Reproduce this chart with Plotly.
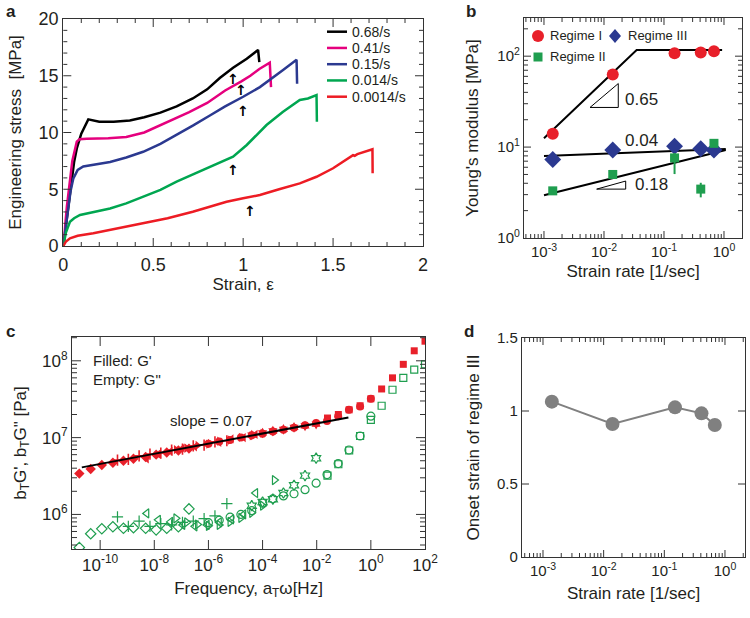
import math

import plotly.graph_objects as go
import plotly.subplots as ps

FONT = "Liberation Sans, Arial, Helvetica, sans-serif"
TXT = "#231f20"
AX = "#333333"
RED = "#e8202a"
GREEN = "#1f9e4f"
NAVY = "#2b3990"
GREY = "#808080"

# ---- (a) curve sforzo-deformazione ----
ETICHETTE_VEL = ["0.68/s", "0.41/s", "0.15/s", "0.014/s", "0.0014/s"]
COLORI_VEL = ["#000000", "#e5007e", "#2b3990", "#00a650", "#ed1c24"]

STRAIN_068 = [0, 0.03, 0.06, 0.075, 0.10, 0.139, 0.16, 0.2, 0.28, 0.37, 0.45, 0.54, 0.63,
              0.72, 0.8, 0.87, 0.944, 1.02, 1.083, 1.09]
STRESS_068 = [0, 3.8, 7.4, 8.6, 9.9, 11.16, 11.1, 10.95, 10.95, 11.05, 11.35, 11.75, 12.3,
              13.0, 13.8, 14.8, 15.7, 16.5, 17.27, 16.2]

STRAIN_041 = [0, 0.02, 0.05, 0.075, 0.09, 0.13, 0.25, 0.35, 0.45, 0.54, 0.63, 0.7, 0.8,
              0.9, 0.99, 1.04, 1.09, 1.148, 1.155]
STRESS_041 = [0, 3.5, 7.5, 9.2, 9.4, 9.45, 9.5, 9.6, 10.0, 10.65, 11.3, 11.8, 12.6,
              13.7, 14.5, 15.0, 15.6, 16.15, 14.0]

STRAIN_015 = [0, 0.02, 0.04, 0.056, 0.08, 0.111, 0.18, 0.26, 0.35, 0.444, 0.54, 0.63, 0.72,
              0.815, 0.9, 1.0, 1.093, 1.222, 1.297, 1.3]
STRESS_015 = [0, 2.5, 4.8, 5.96, 6.7, 7.0, 7.2, 7.4, 7.8, 8.3, 9.0, 9.78, 10.6,
              11.5, 12.3, 13.15, 14.0, 15.5, 16.4, 14.3]

STRAIN_0014 = [0, 0.015, 0.037, 0.06, 0.093, 0.18, 0.26, 0.35, 0.444, 0.54, 0.63, 0.72,
               0.815, 0.944, 1.02, 1.13, 1.22, 1.315, 1.36, 1.408, 1.41]
STRESS_0014 = [0, 1.2, 2.14, 2.45, 2.73, 3.0, 3.3, 3.75, 4.34, 4.95, 5.67, 6.3,
               7.0, 7.87, 8.9, 10.66, 11.8, 12.86, 13.0, 13.3, 10.95]

STRAIN_00014 = [0, 0.015, 0.037, 0.08, 0.167, 0.3, 0.444, 0.58, 0.72, 0.82, 0.908, 1.0,
                1.093, 1.2, 1.315, 1.408, 1.5, 1.611, 1.62, 1.635, 1.719, 1.72]
STRESS_00014 = [0, 0.4, 0.68, 0.9, 1.12, 1.55, 2.0, 2.45, 3.02, 3.5, 3.9, 4.2,
                4.49, 5.0, 5.52, 6.1, 6.85, 8.0, 7.95, 8.1, 8.52, 6.4]

# punte delle frecce (inizio regime III)
ARROW_STRAIN = [0.944, 0.99, 1.0, 0.944, 1.04]
ARROW_STRESS = [15.35, 14.33, 12.48, 7.34, 3.70]

# ---- (b) modulo di Young ----
RATES = [0.0014, 0.014, 0.15, 0.41, 0.68]
E_REGIME_I = [14, 63, 108, 110, 113]
E_REGIME_III = [7.3, 9.3, 10.2, 9.6, 9.3]
E_REGIME_II = [3.3, 5.0, 7.6, 3.45, 11.0]
E_II_ERR_PLUS = [0, 0, 1.0, 0.6, 0]
E_II_ERR_MINUS = [0, 0, 2.55, 0.65, 0]

FIT_I_X = [0.001, 0.035, 0.93]
FIT_I_Y = [12.5, 117, 117]
FIT_III_X = [0.001, 1.07]
FIT_III_Y = [8.0, 9.5]
FIT_II_X = [0.001, 1.07]
FIT_II_Y = [2.95, 9.3]

TRI_065_X = [0.00585, 0.0173, 0.0173, 0.00585]
TRI_065_Y = [27.3, 27.3, 50, 27.3]
TRI_018_X = [0.00755, 0.023, 0.023, 0.00755]
TRI_018_Y = [3.45, 3.45, 4.23, 3.45]

RATE_TICKS = [0.001, 0.01, 0.1, 1]
RATE_TICKTEXT = ["10<sup>-3</sup>", "10<sup>-2</sup>", "10<sup>-1</sup>", "10<sup>0</sup>"]
E_TICKS = [1, 10, 100]
E_TICKTEXT = ["10<sup>0</sup>", "10<sup>1</sup>", "10<sup>2</sup>"]

# ---- (c) curve maestre G', G'' ----
FREQ_D = [1.70e-11, 4.47e-11, 1.15e-10, 2.95e-10, 7.24e-10, 1.70e-9, 4.79e-9, 1.17e-8,
          2.88e-8, 7.76e-8, 1.91e-7]
GP_D = [3.4e6, 3.9e6, 4.4e6, 4.7e6, 5.0e6, 5.3e6, 5.6e6, 6.0e6, 6.4e6, 6.8e6, 7.2e6]
GPP_D = [3.7e5, 5.6e5, 6.5e5, 6.9e5, 6.6e5, 6.7e5, 6.6e5, 6.3e5, 6.6e5, 6.9e5, 1.18e6]

FREQ_X = [4.37e-10, 1.10e-9, 2.75e-9, 6.92e-9, 1.74e-8, 4.37e-8, 1.10e-7, 2.75e-7,
          6.92e-7, 1.74e-6, 4.79e-6]
GP_X = [5.1e6, 5.2e6, 5.8e6, 6.1e6, 6.3e6, 6.9e6, 7.1e6, 7.8e6, 8.0e6, 8.8e6, 9.1e6]
GPP_X = [9.3e5, 7.0e5, 8.2e5, 7.0e5, 7.6e5, 7.3e5, 7.9e5, 8.2e5, 8.8e5, 9.6e5, 1.38e6]

FREQ_L = [5.25e-9, 1.41e-8, 3.98e-8, 1.12e-7, 3.16e-7, 8.91e-7, 2.51e-6, 7.08e-6,
          2.0e-5, 5.5e-5]
GP_L = [5.3e6, 6.1e6, 6.6e6, 7.3e6, 7.6e6, 8.4e6, 8.7e6, 9.6e6, 1.0e7, 1.1e7]
GPP_L = [1.03e6, 8.5e5, 8.0e5, 7.3e5, 7.0e5, 7.3e5, 7.9e5, 8.6e5, 1.0e6, 1.9e6]

FREQ_R = [6.31e-8, 1.58e-7, 3.98e-7, 1.0e-6, 2.51e-6, 6.31e-6, 1.58e-5, 3.98e-5,
          1.0e-4, 2.75e-4]
GP_R = [7.0e6, 7.3e6, 7.9e6, 8.2e6, 9.0e6, 9.3e6, 1.01e7, 1.05e7, 1.14e7, 1.2e7]
GPP_R = [8.9e5, 7.9e5, 7.4e5, 7.1e5, 7.3e5, 8.0e5, 9.0e5, 1.05e6, 1.3e6, 2.8e6]

FREQ_O = [1.0e-6, 2.51e-6, 6.31e-6, 1.58e-5, 3.98e-5, 1.0e-4, 2.4e-4, 5.9e-4, 1.45e-3,
          3.7e-3, 9.5e-3, 2.4e-2, 6.2e-2, 0.155, 0.40, 1.0]
GP_O = [8.3e6, 8.9e6, 9.3e6, 1.0e7, 1.07e7, 1.12e7, 1.2e7, 1.27e7, 1.34e7, 1.45e7,
        1.55e7, 1.65e7, 1.9e7, 2.3e7, 2.55e7, 3.2e7]
GPP_O = [7.8e5, 8.4e5, 9.2e5, 1.0e6, 1.12e6, 1.4e6, 1.6e6, 1.74e6, 1.86e6, 2.1e6,
         2.55e6, 3.3e6, 4.6e6, 6.9e6, 1.05e7, 1.9e7]

FREQ_S = [3.98e-5, 1.0e-4, 2.4e-4, 5.9e-4, 1.45e-3, 3.7e-3, 9.5e-3]
GP_S = [1.08e7, 1.15e7, 1.22e7, 1.28e7, 1.36e7, 1.42e7, 1.5e7]
GPP_S = [1.3e6, 1.45e6, 1.58e6, 1.9e6, 2.4e6, 3.2e6, 5.4e6]

FREQ_Q = [0.025, 0.063, 0.158, 0.40, 1.0, 2.5, 6.3, 15.8, 40, 100]
GP_Q = [1.8e7, 2.0e7, 2.3e7, 2.6e7, 3.2e7, 4.3e7, 6.0e7, 9.0e7, 1.35e8, 1.8e8]
GPP_Q = [3.2e6, 4.5e6, 6.8e6, 1.05e7, 1.7e7, 2.6e7, 4.2e7, 6.0e7, 7.7e7, 9.0e7]

FIT_C_FREQ = [2.1e-11, 0.148]
FIT_C_G = [4.1e6, 1.83e7]

FREQ_TICKS = [1e-10, 1e-8, 1e-6, 1e-4, 1e-2, 1, 100]
FREQ_TICKTEXT = ["10<sup>-10</sup>", "10<sup>-8</sup>", "10<sup>-6</sup>", "10<sup>-4</sup>",
                 "10<sup>-2</sup>", "10<sup>0</sup>", "10<sup>2</sup>"]
G_TICKS = [1e6, 1e7, 1e8]
G_TICKTEXT = ["10<sup>6</sup>", "10<sup>7</sup>", "10<sup>8</sup>"]

# ---- (d) deformazione di inizio regime III ----
ONSET = [1.064, 0.911, 1.025, 0.984, 0.904]
ONSET_TICKS = [0, 0.5, 1, 1.5]

# range degli assi (log10 per gli assi logaritmici)
R_A_X, R_A_Y = [0, 2], [0, 20]
R_B_X, R_B_Y = [-3.333, 0.3], [0, 2.42]
R_C_X, R_C_Y = [-11.04, 2.0], [5.55, 8.31]
R_D_X, R_D_Y = [-3.346, 0.33], [0, 1.5]

# riquadri dei pannelli in pixel: (sinistra, destra, alto, basso)
BOX_A = (63.3, 423, 19, 246)
BOX_B = (524, 742, 18, 238)
BOX_C = (72, 425, 337, 549)
BOX_D = (522, 745, 338, 557)


def px(x):
    return x / 750


def py(y):
    return 1 - y / 618


def frac(v, r, log=False):
    v = math.log10(v) if log else v
    return (v - r[0]) / (r[1] - r[0])


def tacche_log(r, e_min, e_max, lung_mag, lung_min, major_step=1):
    # (frazione, lunghezza) delle tacche di un asse logaritmico
    out = []
    for e in range(e_min, e_max + 1):
        if (e - e_min) % major_step == 0:
            out.append((frac(10.0 ** e, r, True), lung_mag))
        if lung_min:
            for m in range(2, 10):
                out.append((frac(m * 10.0 ** e, r, True), lung_min))
    return [(f, l) for f, l in out if 0.002 < f < 0.998]


def tacche_lin(r, passo, ogni, lung_mag, lung_min):
    out = []
    n = int(round((r[1] - r[0]) / passo))
    for i in range(1, n):
        out.append((i / n, lung_mag if i % ogni == 0 else lung_min))
    return out


def forme_tacche(box, tacche, orient):
    # linee brevi in coordinate paper, verso l'interno, su entrambi i lati
    x0, x1, y0, y1 = box
    out = []
    st = dict(type="line", xref="paper", yref="paper", line=dict(color=AX, width=1))
    for f, lung in tacche:
        if orient == "x":
            xx = x0 + f * (x1 - x0)
            out.append(dict(x0=px(xx), x1=px(xx), y0=py(y1), y1=py(y1 - lung), **st))
            out.append(dict(x0=px(xx), x1=px(xx), y0=py(y0), y1=py(y0 + lung), **st))
        else:
            yy = y1 - f * (y1 - y0)
            out.append(dict(x0=px(x0), x1=px(x0 + lung), y0=py(yy), y1=py(yy), **st))
            out.append(dict(x0=px(x1), x1=px(x1 - lung), y0=py(yy), y1=py(yy), **st))
    return out


def assi(size, **kw):
    d = dict(showline=True, linecolor=AX, linewidth=1.2, mirror=True, ticks="",
             showgrid=False, zeroline=False, automargin=False,
             tickfont=dict(size=size, color=TXT, family=FONT),
             title_font=dict(size=17, color=TXT, family=FONT))
    d.update(kw)
    return d


fig = ps.make_subplots(rows=2, cols=2)

# (a)
curve = [(STRAIN_068, STRESS_068), (STRAIN_041, STRESS_041), (STRAIN_015, STRESS_015),
         (STRAIN_0014, STRESS_0014), (STRAIN_00014, STRESS_00014)]
for (xs, ys), nome, col in zip(curve, ETICHETTE_VEL, COLORI_VEL):
    fig.add_trace(go.Scatter(x=xs, y=ys, mode="lines", name=nome,
                             line=dict(color=col, width=2.5), showlegend=False), row=1, col=1)

# (b)
for fx, fy in [(FIT_I_X, FIT_I_Y), (FIT_III_X, FIT_III_Y), (FIT_II_X, FIT_II_Y)]:
    fig.add_trace(go.Scatter(x=fx, y=fy, mode="lines", line=dict(color="black", width=2),
                             showlegend=False), row=1, col=2)
for tx, ty in [(TRI_065_X, TRI_065_Y), (TRI_018_X, TRI_018_Y)]:
    fig.add_trace(go.Scatter(x=tx, y=ty, mode="lines", line=dict(color="black", width=1),
                             showlegend=False), row=1, col=2)
fig.add_trace(go.Scatter(x=RATES, y=E_REGIME_I, mode="markers", name="Regime I", showlegend=False,
                         marker=dict(symbol="circle", size=12, color=RED)), row=1, col=2)
fig.add_trace(go.Scatter(x=RATES, y=E_REGIME_III, mode="markers", name="Regime III", showlegend=False,
                         marker=dict(symbol="diamond", size=13, color=NAVY)), row=1, col=2)
fig.add_trace(go.Scatter(x=RATES, y=E_REGIME_II, mode="markers", name="Regime II", showlegend=False,
                         marker=dict(symbol="square", size=9, color=GREEN),
                         error_y=dict(type="data", array=E_II_ERR_PLUS, arrayminus=E_II_ERR_MINUS,
                                      color=GREEN, thickness=2, width=0)), row=1, col=2)

# (c)
serie_c = [(FREQ_D, GP_D, GPP_D, "diamond", 8), (FREQ_X, GP_X, GPP_X, "cross-thin", 8),
           (FREQ_L, GP_L, GPP_L, "triangle-left", 8), (FREQ_R, GP_R, GPP_R, "triangle-right", 8),
           (FREQ_O, GP_O, GPP_O, "circle", 8), (FREQ_S, GP_S, GPP_S, "hexagram", 8),
           (FREQ_Q, GP_Q, GPP_Q, "square", 7)]
for fr, gp, gpp, sym, sz in serie_c:
    if sym == "cross-thin":
        m_full = dict(symbol=sym, size=sz, line=dict(color=RED, width=1.6))
        m_empty = dict(symbol=sym, size=sz, line=dict(color=GREEN, width=1.2))
    else:
        m_full = dict(symbol=sym, size=sz, color=RED, line=dict(width=0))
        m_empty = dict(symbol=sym + "-open", size=sz, color=GREEN, line=dict(color=GREEN, width=1.2))
    fig.add_trace(go.Scatter(x=fr, y=gp, mode="markers", marker=m_full, showlegend=False), row=2, col=1)
    fig.add_trace(go.Scatter(x=fr, y=gpp, mode="markers", marker=m_empty, showlegend=False), row=2, col=1)
fig.add_trace(go.Scatter(x=FIT_C_FREQ, y=FIT_C_G, mode="lines", line=dict(color="black", width=2),
                         showlegend=False), row=2, col=1)

# (d)
fig.add_trace(go.Scatter(x=RATES, y=ONSET, mode="lines+markers", line=dict(color=GREY, width=2),
                         marker=dict(size=14, color=GREY), showlegend=False), row=2, col=2)

# assi
fig.update_xaxes(assi(18, domain=[px(BOX_A[0]), px(BOX_A[1])], range=R_A_X, dtick=0.5,
                      ticklabelstandoff=2,
                      title_text="Strain, ε", title_standoff=1), row=1, col=1)
fig.update_yaxes(assi(18, domain=[py(BOX_A[3]), py(BOX_A[2])], range=R_A_Y, dtick=5,
                      title_text="Engineering stress  [MPa]", title_standoff=12), row=1, col=1)

fig.update_xaxes(assi(15, type="log", domain=[px(BOX_B[0]), px(BOX_B[1])], range=R_B_X,
                      tickvals=RATE_TICKS, ticktext=RATE_TICKTEXT,
                      title_text="Strain rate [1/sec]", title_standoff=6), row=1, col=2)
fig.update_yaxes(assi(15, type="log", domain=[py(BOX_B[3]), py(BOX_B[2])], range=R_B_Y,
                      tickvals=E_TICKS, ticktext=E_TICKTEXT,
                      title_text="Young's modulus [MPa]", title_standoff=14), row=1, col=2)

fig.update_xaxes(assi(17, type="log", domain=[px(BOX_C[0]), px(BOX_C[1])], range=R_C_X,
                      tickvals=FREQ_TICKS, ticktext=FREQ_TICKTEXT,
                      title_text="Frequency, a<sub>T</sub>ω[Hz]", title_standoff=8), row=2, col=1)
fig.update_yaxes(assi(17, type="log", domain=[py(BOX_C[3]), py(BOX_C[2])], range=R_C_Y,
                      tickvals=G_TICKS, ticktext=G_TICKTEXT,
                      title_text="b<sub>T</sub>G', b<sub>T</sub>G\" [Pa]", title_standoff=11),
                 row=2, col=1)

fig.update_xaxes(assi(15, type="log", domain=[px(BOX_D[0]), px(BOX_D[1])], range=R_D_X,
                      tickvals=RATE_TICKS, ticktext=RATE_TICKTEXT,
                      title_text="Strain rate [1/sec]", title_standoff=9), row=2, col=2)
fig.update_yaxes(assi(15, domain=[py(BOX_D[3]), py(BOX_D[2])], range=R_D_Y, tickvals=ONSET_TICKS,
                      title_text="Onset strain of regime III", title_standoff=13), row=2, col=2)

# tacche interne su tutti i lati (in coordinate paper)
forme = []
forme += forme_tacche(BOX_A, tacche_lin(R_A_X, 0.1, 5, 8, 4), "x")
forme += forme_tacche(BOX_A, tacche_lin(R_A_Y, 1, 5, 8, 4), "y")
forme += forme_tacche(BOX_B, tacche_log(R_B_X, -4, 0, 7, 4), "x")
forme += forme_tacche(BOX_B, tacche_log(R_B_Y, 0, 2, 7, 4), "y")
forme += forme_tacche(BOX_C, tacche_log(R_C_X, -12, 2, 9, 0, 2), "x")
forme += forme_tacche(BOX_C, tacche_log(R_C_Y, 5, 8, 9, 5), "y")
forme += forme_tacche(BOX_D, tacche_log(R_D_X, -4, 0, 7, 4), "x")
forme += forme_tacche(BOX_D, tacche_lin(R_D_Y, 0.5, 1, 7, 7), "y")

# legenda (a)
for i, col in enumerate(COLORI_VEL):
    yy = 31.7 + i * 16.25
    forme.append(dict(type="line", xref="paper", yref="paper", x0=px(327), x1=px(347),
                      y0=py(yy), y1=py(yy), line=dict(color=col, width=2.5)))

# legenda (b)
forme.append(dict(type="circle", xref="paper", yref="paper", x0=px(532), x1=px(544),
                  y0=py(42), y1=py(30), fillcolor=RED, line=dict(width=0)))
forme.append(dict(type="path", xref="paper", yref="paper", fillcolor=NAVY, line=dict(width=0),
                  path=f"M {px(615)},{py(29)} L {px(621)},{py(36)} L {px(615)},{py(43)} "
                       f"L {px(609)},{py(36)} Z"))
forme.append(dict(type="rect", xref="paper", yref="paper", x0=px(533.5), x1=px(542.5),
                  y0=py(61.5), y1=py(52.5), fillcolor=GREEN, line=dict(width=0)))

annot = []
# frecce (a)
for xs, ys in zip(ARROW_STRAIN, ARROW_STRESS):
    annot.append(dict(x=xs, y=ys, xref="x", yref="y", text="<b>↑</b>", showarrow=False,
                      yanchor="top", yshift=3,
                      font=dict(size=14, color="black", family="DejaVu Sans")))

for i, nome in enumerate(ETICHETTE_VEL):
    yy = 31.7 + i * 16.25
    annot.append(dict(x=px(350), y=py(yy), xref="paper", yref="paper", text=nome,
                      showarrow=False, xanchor="left", yanchor="middle",
                      font=dict(size=14, color=TXT, family=FONT)))

for t, x, y in [("Regime I", 548, 36), ("Regime III", 626, 36), ("Regime II", 548, 57)]:
    annot.append(dict(x=px(x), y=py(y), xref="paper", yref="paper", text=t, showarrow=False,
                      xanchor="left", yanchor="middle", font=dict(size=13, color=TXT, family=FONT)))

testi = [
    ("a", 4, 12, 17, True), ("b", 464, 12, 17, True),
    ("c", 4, 331, 17, True), ("d", 462, 331, 17, True),
    ("0.65", 623, 99.3, 17, False), ("0.04", 623, 140.7, 17, False),
    ("0.18", 633, 185, 17, False),
    ("Filled: G'", 91, 360.7, 15, False), ("Empty: G\"", 91, 379.3, 15, False),
    ("slope = 0.07", 168, 420.7, 15, False),
]
for t, x, y, s, bold in testi:
    annot.append(dict(x=px(x), y=py(y), xref="paper", yref="paper",
                      text=f"<b>{t}</b>" if bold else t, showarrow=False,
                      xanchor="left", yanchor="middle", font=dict(size=s, color=TXT, family=FONT)))

fig.update_layout(
    width=750, height=618, margin=dict(l=0, r=0, t=0, b=0, autoexpand=False),
    paper_bgcolor="white", plot_bgcolor="white",
    font=dict(family=FONT, color=TXT), showlegend=False,
    shapes=forme, annotations=annot,
)

fig.write_html("out.html", config={"displayModeBar": False},
               post_script="document.body.style.margin='0';document.body.style.overflow='hidden';")
